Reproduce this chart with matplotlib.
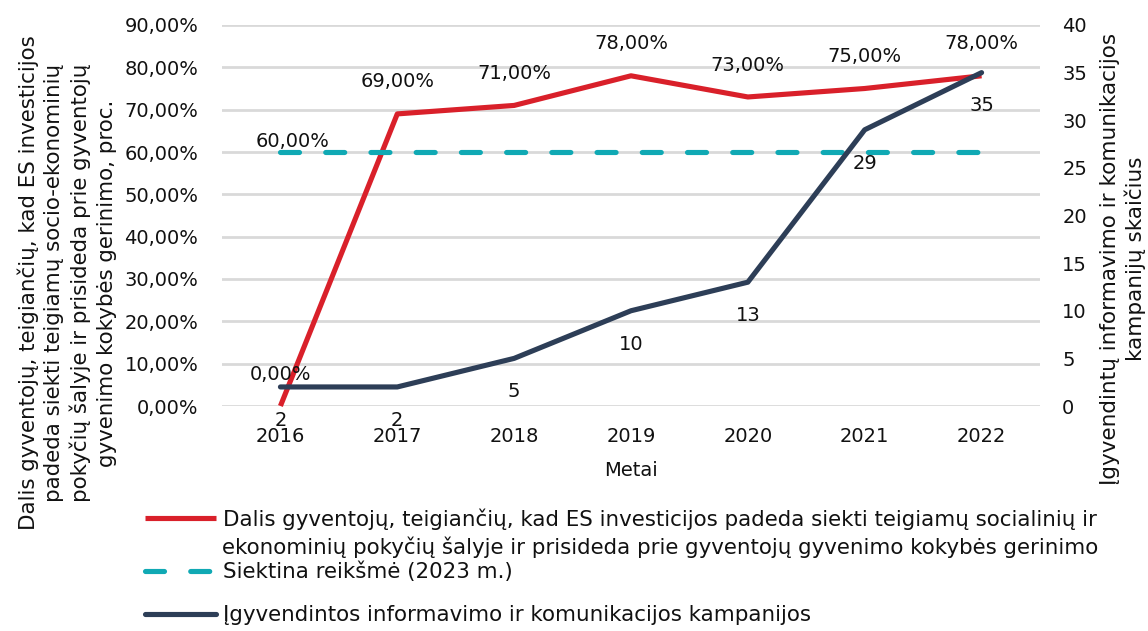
import matplotlib
matplotlib.use("Agg")
import matplotlib.pyplot as plt
from matplotlib.ticker import FuncFormatter, MultipleLocator

plt.rcParams['font.family'] = ['DejaVu Sans']

# ---- data ----
years = ["2016", "2017", "2018", "2019", "2020", "2021", "2022"]
share_pct = [0.00, 0.69, 0.71, 0.78, 0.73, 0.75, 0.78]
target_pct = [0.60, 0.60, 0.60, 0.60, 0.60, 0.60, 0.60]
campaigns = [2, 2, 5, 10, 13, 29, 35]

left_label = ("Dalis gyventojų, teigiančių, kad ES investicijos\n"
              "padeda siekti teigiamų socio-ekonominių\n"
              "pokyčių šalyje ir prisideda prie gyventojų\n"
              "gyvenimo kokybės gerinimo, proc.")
right_label = ("Įgyvendintų informavimo ir komunikacijos\n"
               "kampanijų skaičius")
x_label = "Metai"
legend_labels = [
    "Dalis gyventojų, teigiančių, kad ES investicijos padeda siekti teigiamų socialinių ir",
    "ekonominių pokyčių šalyje ir prisideda prie gyventojų gyvenimo kokybės gerinimo",
    "Siektina reikšmė (2023 m.)",
    "Įgyvendintos informavimo ir komunikacijos kampanijos",
]

# ---- style ----
RED = "#D9202A"
TEAL = "#10A9B4"
NAVY = "#2D3E57"
GRID = "#D9D9D9"
TXT = "#111111"

W, H = 1148, 631
fig = plt.figure(figsize=(W / 100, H / 100), dpi=100)
ax1 = fig.add_axes([222 / W, 1 - 406 / H, 818 / W, 381 / H])
ax2 = ax1.twinx()

x = list(range(len(years)))
lw = 3.7

red_line, = ax1.plot(x, share_pct, color=RED, lw=lw, solid_joinstyle='round',
                     solid_capstyle='butt', zorder=3, clip_on=False)
teal_line, = ax1.plot(x, target_pct, color=TEAL, lw=lw, zorder=4,
                      dash_capstyle='round', clip_on=False)
teal_line.set_dashes((3.7, 5.1))
navy_line, = ax2.plot(x, campaigns, color=NAVY, lw=lw, solid_joinstyle='round',
                      solid_capstyle='round', zorder=5, clip_on=False)

# axes limits and ticks
ax1.set_xlim(-0.5, len(years) - 0.5)
ax1.set_ylim(0, 0.9)
ax1.yaxis.set_major_locator(MultipleLocator(0.1))
ax1.yaxis.set_major_formatter(FuncFormatter(lambda v, p: f"{v*100:.2f}%".replace('.', ',')))
ax2.set_ylim(0, 40)
ax2.yaxis.set_major_locator(MultipleLocator(5))
ax1.set_xticks(x)
ax1.set_xticklabels(years)

ax1.grid(axis='y', color=GRID, lw=2)
ax1.set_axisbelow(True)
for ax in (ax1, ax2):
    for s in ax.spines.values():
        s.set_visible(False)
ax1.tick_params(axis='both', length=0, labelsize=14, colors=TXT)
ax1.tick_params(axis='y', pad=17)
ax1.tick_params(axis='x', pad=15)
ax2.tick_params(axis='y', length=0, labelsize=14, colors=TXT, pad=16)

ax1.set_xlabel(x_label, fontsize=14, color=TXT, labelpad=11)

# data labels
for xi, v in zip(x, share_pct):
    ax1.annotate(f"{v*100:.2f}%".replace('.', ','), (xi, v), xytext=(0, 23),
                 textcoords='offset points', ha='center', va='center',
                 fontsize=14, color=TXT, zorder=6, annotation_clip=False)
ax1.annotate(f"{target_pct[0]*100:.2f}%".replace('.', ','), (x[0], target_pct[0]),
             xytext=(8.6, 7.5), textcoords='offset points', ha='center', va='center',
             fontsize=14, color=TXT, zorder=6)
for xi, v in zip(x, campaigns):
    ax2.annotate(str(v), (xi, v), xytext=(0, -24), textcoords='offset points',
                 ha='center', va='center', fontsize=14, color=TXT, zorder=6,
                 annotation_clip=False)

# axis titles
fig.text(67 / W, 1 - 283 / H, left_label, rotation=90, ha='center', va='center',
         multialignment='center', fontsize=15.4, color=TXT, linespacing=1.33)
fig.text(1123 / W, 1 - 259 / H, right_label, rotation=90, ha='center', va='center',
         multialignment='center', fontsize=15.5, color=TXT, linespacing=1.3)

# legend
LFS = 15.4
leg_kw = dict(loc='center left', frameon=False, fontsize=LFS, handlelength=3.3,
              handletextpad=0.33, borderpad=0, borderaxespad=0, labelcolor=TXT)
fig.legend(handles=[red_line], labels=[legend_labels[0]],
           bbox_to_anchor=(145 / W, 1 - 519 / H), **leg_kw)
fig.text(222 / W, 1 - 547 / H, legend_labels[1], ha='left', va='center',
         fontsize=LFS, color=TXT)
fig.legend(handles=[teal_line], labels=[legend_labels[2]],
           bbox_to_anchor=(145 / W, 1 - 572 / H), **leg_kw)
fig.legend(handles=[navy_line], labels=[legend_labels[3]],
           bbox_to_anchor=(145 / W, 1 - 615 / H), **leg_kw)

fig.savefig("out.png", dpi=100, facecolor='white')
